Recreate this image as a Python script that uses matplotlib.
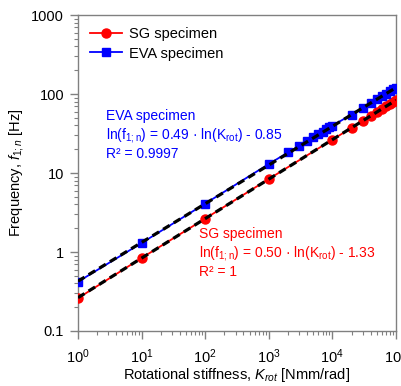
import numpy as np
import matplotlib
matplotlib.use("Agg")
import matplotlib.pyplot as plt
from matplotlib.ticker import LogLocator, FixedLocator, FixedFormatter, NullFormatter

plt.rcParams['font.family'] = ['Liberation Sans', 'DejaVu Sans']
plt.rcParams['mathtext.fontset'] = 'custom'
plt.rcParams['mathtext.rm'] = 'Liberation Sans'
plt.rcParams['mathtext.it'] = 'Liberation Sans:italic'
plt.rcParams['mathtext.bf'] = 'Liberation Sans:bold'

# Data
sg_k = [1, 10, 100, 1000, 1e4, 2e4, 3e4, 4e4, 5e4, 6e4, 7e4, 8e4, 9e4, 1e5]
sg_f = [0.26, 0.84, 2.65, 8.4, 26.4, 37.4, 45.8, 52.9, 59.1, 64.8, 70.0, 74.8, 79.3, 83.6]

eva_k = [1, 10, 100, 1000, 2000, 3000, 4000, 5000, 6000, 7000, 8000, 9000, 1e4,
         2e4, 3e4, 4e4, 5e4, 6e4, 7e4, 8e4, 9e4, 1e5]
eva_f = [0.42, 1.3, 4.1, 13.0, 18.2, 22.1, 25.4, 28.4, 31.0, 33.4, 35.6, 37.8, 39.7,
         55.0, 67.0, 77.0, 86.0, 94.0, 101.0, 108.0, 115.0, 121.0]

# Fit coefficients (ln f = a ln K + b)
sg_fit = [0.50, -1.33]
eva_fit = [0.49, -0.85]

fig = plt.figure(figsize=(4.02, 3.86), dpi=100)
ax = fig.add_axes([0.194, 0.1425, 0.791, 0.8185])

red = '#ff0000'
blue = '#0000ff'

ax.plot(sg_k, sg_f, color=red, lw=1.3, marker='o', ms=6.5, mec=red, mfc=red,
        label='SG specimen', zorder=3)
ax.plot(eva_k, eva_f, color=blue, lw=1.3, marker='s', ms=6, mec=blue, mfc=blue,
        label='EVA specimen', zorder=3)

kk = np.logspace(0, 5, 200)
for a, b in (sg_fit, eva_fit):
    ax.plot(kk, np.exp(b) * kk ** a, color='black', lw=2.3, dashes=(2.4, 1.5), zorder=4)

ax.set_xscale('log')
ax.set_yscale('log')
ax.set_xlim(1, 1e5)
ax.set_ylim(0.1, 1000)

ax.xaxis.set_major_locator(LogLocator(base=10, numticks=10))
ax.xaxis.set_minor_locator(LogLocator(base=10, subs=np.arange(2, 10), numticks=10))
ax.xaxis.set_minor_formatter(NullFormatter())
ax.yaxis.set_major_locator(FixedLocator([0.1, 1, 10, 100, 1000]))
ax.yaxis.set_major_formatter(FixedFormatter(['0.1', '1', '10', '100', '1000']))
ax.yaxis.set_minor_locator(LogLocator(base=10, subs=np.arange(2, 10), numticks=10))
ax.yaxis.set_minor_formatter(NullFormatter())

spine_c = '#808080'
for s in ax.spines.values():
    s.set_color(spine_c)
    s.set_linewidth(1.0)
ax.tick_params(which='major', direction='out', length=6, width=1.0, color=spine_c,
               labelsize=10.5, pad=4, top=False, right=False)
ax.tick_params(which='minor', direction='out', length=3, width=0.8, color=spine_c,
               top=False, right=False)
ax.tick_params(axis='x', which='major', pad=6)

ax.set_xlabel('Rotational stiffness, $K_{rot}$ [Nmm/rad]', fontsize=10.5, labelpad=0)
ax.set_ylabel('Frequency, $f_{1;n}$ [Hz]', fontsize=10.5, labelpad=4)

leg = ax.legend(loc='upper left', frameon=False, fontsize=10.5, handlelength=2.2,
                borderaxespad=0.4, labelspacing=0.4, handletextpad=0.5)

ax.text(0.088, 0.703,
        'EVA specimen\nln(f$_{\\mathrm{1;n}}$) = 0.49 · ln(K$_{\\mathrm{rot}}$) - 0.85\nR² = 0.9997',
        transform=ax.transAxes, color=blue, fontsize=10, va='top', ha='left',
        linespacing=1.2)
ax.text(0.382, 0.328,
        'SG specimen\nln(f$_{\\mathrm{1;n}}$) = 0.50 · ln(K$_{\\mathrm{rot}}$) - 1.33\nR² = 1',
        transform=ax.transAxes, color=red, fontsize=10, va='top', ha='left',
        linespacing=1.2)

fig.savefig('out.png', dpi=100)
